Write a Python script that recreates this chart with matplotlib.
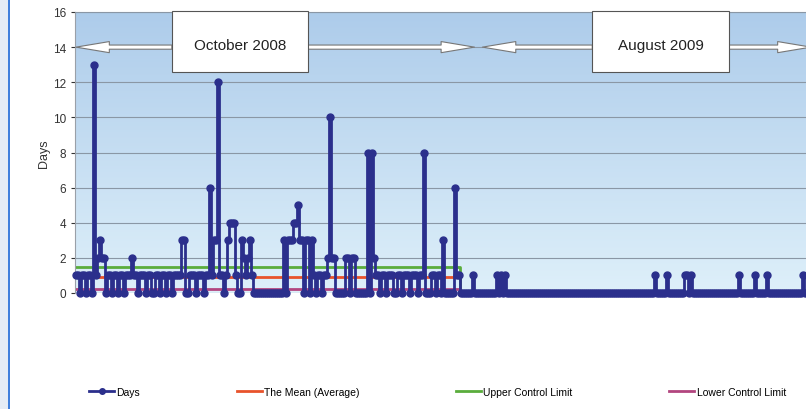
import matplotlib
matplotlib.use("Agg")
import matplotlib.pyplot as plt
from matplotlib.patches import Rectangle, FancyArrowPatch
import numpy as np

plt.rcParams['font.family'] = ['Liberation Sans', 'DejaVu Sans']

# days per record, first period (Oct 2008 block)
days_early = [
    1, 1, 0, 1, 1, 0, 1, 1, 0, 13, 1, 2, 3, 2, 2, 0, 1, 1, 0, 1,
    1, 0, 1, 1, 0, 1, 1, 1, 2, 1, 1, 0, 1, 1, 1, 0, 1, 1, 0, 0,
    1, 1, 0, 1, 1, 0, 1, 1, 0, 1, 1, 1, 1, 3, 3, 0, 0, 1, 1, 1,
    0, 1, 1, 1, 0, 1, 1, 6, 1, 3, 3, 12, 1, 1, 0, 1, 3, 4, 4, 4,
    1, 0, 0, 3, 2, 1, 2, 3, 1, 0, 0, 0, 0, 0, 0, 0, 0, 0, 0, 0,
    0, 0, 0, 0, 3, 0, 3, 3, 3, 4, 4, 5, 3, 3, 0, 3, 3, 0, 3, 1,
    0, 1, 1, 0, 1, 1, 2, 10, 2, 2, 0, 0, 0, 0, 0, 2, 2, 0, 2, 2,
    0, 0, 0, 0, 0, 0, 8, 0, 8, 2, 1, 1, 0, 1, 1, 0, 1, 1, 1, 0,
    0, 1, 1, 0, 1, 1, 1, 0, 1, 1, 1, 0, 1, 1, 8, 0, 0, 0, 1, 1,
    0, 1, 1, 0, 3, 0, 0, 0, 0, 0, 6, 1, 1,
]
# later records are zero except these single days
late_one_day = [199, 211, 213, 215, 290, 296, 305, 306, 308, 332, 340, 346, 364]
n_records = 368

mean_days = 0.9
upper_limit = 1.5
lower_limit = 0.2

days = np.zeros(n_records)
days[:len(days_early)] = days_early
days[late_one_day] = 1
x = np.arange(n_records)

n_ctrl = len(days_early)
mean_line = np.r_[np.full(n_ctrl, mean_days), 0]
ucl_line = np.r_[np.full(n_ctrl, upper_limit), 0]
lcl_line = np.r_[np.full(n_ctrl, lower_limit), 0]
x_ctrl = np.arange(n_ctrl + 1)

fig = plt.figure(figsize=(8.06, 4.10), dpi=100)
ax = fig.add_axes([75 / 806, 1 - 294 / 410, 1 - 75 / 806, (294 - 13) / 410])

# gradient plot background
grad = np.linspace(0, 1, 256).reshape(-1, 1)
top = np.array([0.68, 0.80, 0.92])
bot = np.array([0.87, 0.94, 0.98])
img = top * (1 - grad[..., None]) + bot * grad[..., None]
ax.imshow(img, extent=[0, 1, 0, 1], transform=ax.transAxes, aspect='auto', zorder=0)

navy = '#2b2f8c'
ax.plot(x, days, color=navy, lw=2, drawstyle='steps-mid', zorder=3, clip_on=False)
ax.plot(x, days, color=navy, lw=0, marker='o', ms=5, zorder=3, clip_on=False)
ax.plot([], [], color=navy, lw=2, marker='o', ms=4, label='Days')
ax.plot(x_ctrl, mean_line, color='#e8532b', lw=2, zorder=2,
        drawstyle='steps-mid', label='The Mean (Average)')
ax.plot(x_ctrl, ucl_line, color='#5aad3c', lw=2, zorder=2,
        drawstyle='steps-mid', label='Upper Control Limit')
ax.plot(x_ctrl, lcl_line, color='#b2457f', lw=2, zorder=2,
        drawstyle='steps-mid', label='Lower Control Limit')

ax.set_xlim(-0.5, 365.5)
ax.set_ylim(0, 16)
ax.set_yticks(range(0, 17, 2))
ax.tick_params(axis='y', labelsize=8.5, colors='#333333', length=3)
ax.set_xticks([])
ax.grid(axis='y', color='#8a97a5', lw=0.8)
ax.set_axisbelow(True)
for s in ['right', 'bottom']:
    ax.spines[s].set_visible(False)
ax.spines['left'].set_color('#9aa0a8')
ax.spines['top'].set_color('#8a97a5')
ax.set_ylabel('Days', fontsize=9, color='#333333', labelpad=2)

# period labels with arrows
def period(x0, x1, text, a_left, a_right):
    ax.add_patch(Rectangle((x0, 12.6), x1 - x0, 3.45, fc='white', ec='#555555',
                           lw=0.8, zorder=6, clip_on=False))
    ax.text((x0 + x1) / 2, 14.1, text, ha='center', va='center', fontsize=11,
            color='#222222', zorder=7)
    for a, b in [(x0, a_left), (x1, a_right)]:
        ax.add_patch(FancyArrowPatch((a, 14), (b, 14), mutation_scale=10,
                                     arrowstyle='simple,head_length=2.4,head_width=0.8,tail_width=0.3',
                                     fc='white', ec='#777777', lw=0.8, zorder=5,
                                     clip_on=False, shrinkA=0, shrinkB=0))

period(48, 116, 'October 2008', 0, 199.5)
period(258.5, 327, 'August 2009', 203.5, 368)

fig.legend(loc='lower left', bbox_to_anchor=(85 / 806, 0.02, 705 / 806, 0.06),
           mode='expand', ncol=4, frameon=False, fontsize=7.5,
           handlelength=2.4, handletextpad=0.2, borderaxespad=0)

# left frame strip
fig.patches.append(Rectangle((0, 0), 8 / 806, 1, transform=fig.transFigure,
                             fc='#e4ecf6', ec='none'))
fig.patches.append(Rectangle((8 / 806, 0), 1.5 / 806, 1, transform=fig.transFigure,
                             fc='#3f7fdc', ec='none'))

fig.savefig('out.png', dpi=100)
